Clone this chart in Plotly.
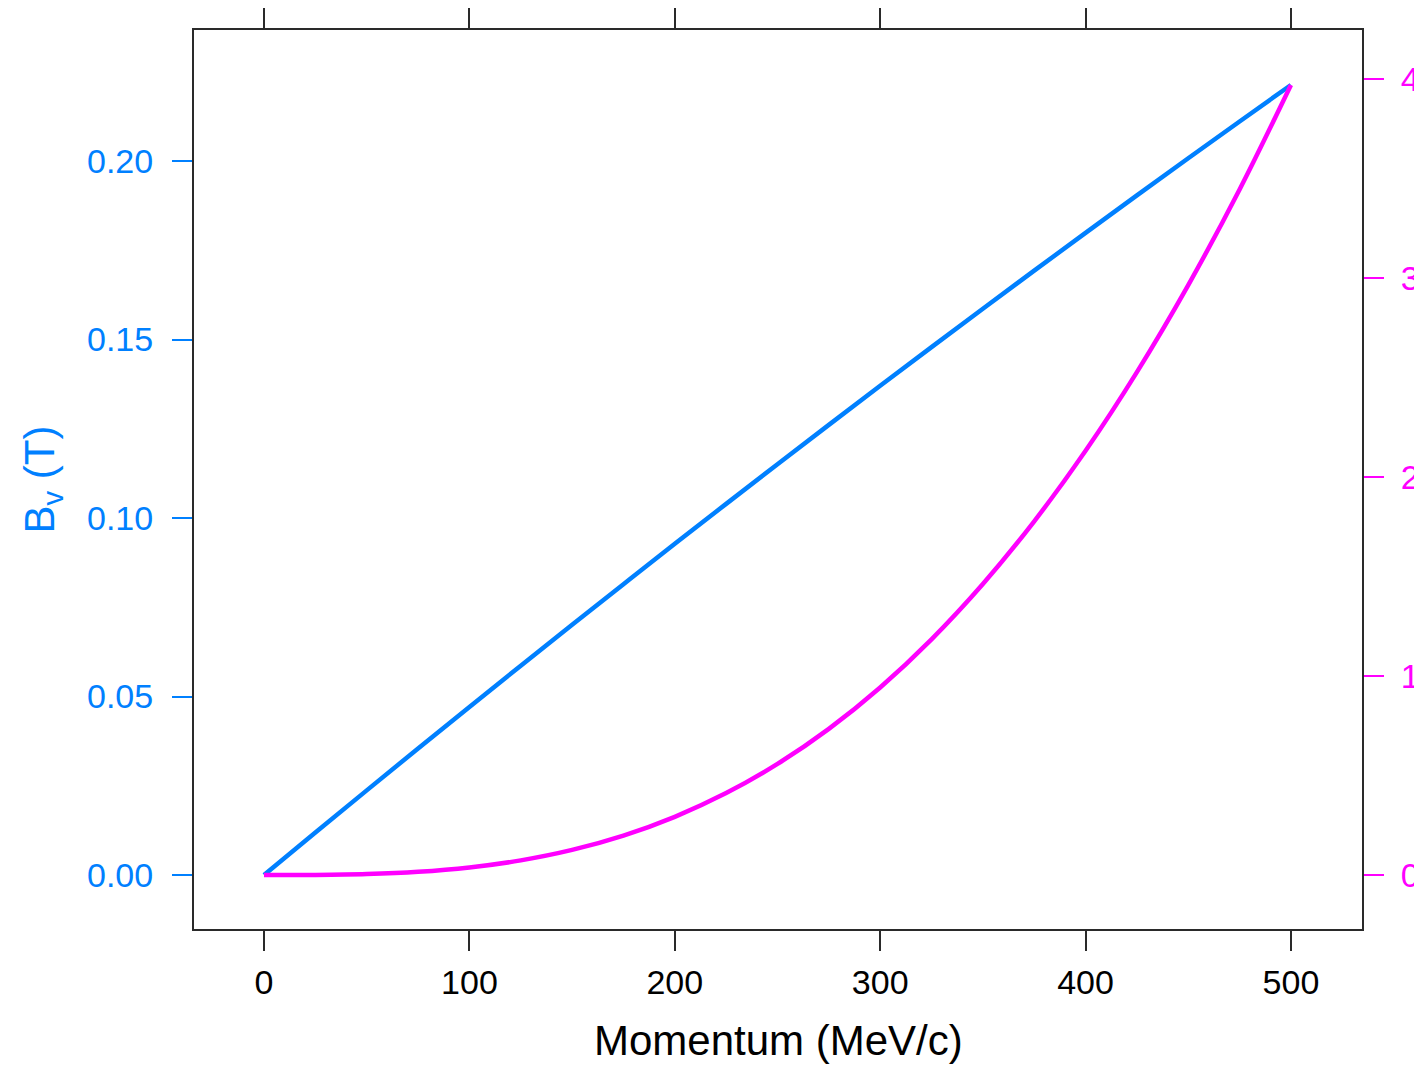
import plotly.graph_objects as go

# Data
momentum = [0, 25, 50, 75, 100, 125, 150, 175, 200, 225, 250, 275, 300,
            325, 350, 375, 400, 425, 450, 475, 500]
b_field = [0.0, 0.01191, 0.02373, 0.03546, 0.04710, 0.05865, 0.07012, 0.08149,
           0.09278, 0.10398, 0.11509, 0.12611, 0.13704, 0.14788, 0.15864,
           0.16930, 0.17988, 0.19037, 0.20077, 0.21108, 0.22130]
right_series = [0.0, 0.0006, 0.0049, 0.0163, 0.0383, 0.0739, 0.1263, 0.1982,
                0.2926, 0.4118, 0.5584, 0.7347, 0.9427, 1.1846, 1.4625, 1.7776,
                2.1320, 2.5273, 2.9645, 3.4450, 3.97]

x_ticks = [0, 100, 200, 300, 400, 500]
left_ticks = [0.00, 0.05, 0.10, 0.15, 0.20]
left_tick_text = ["0.00", "0.05", "0.10", "0.15", "0.20"]
right_ticks = [0, 1, 2, 3, 4]
x_title = "Momentum (MeV/c)"

BLUE = "#0080ff"
MAGENTA = "#ff00ff"
FRAME = "#2a2a2a"
FONT = "Liberation Sans, Arial, sans-serif"

fig = go.Figure()
fig.add_trace(go.Scatter(x=momentum, y=b_field, mode="lines",
                         line=dict(color=BLUE, width=4.5, shape="spline"),
                         yaxis="y", showlegend=False, hoverinfo="skip"))
fig.add_trace(go.Scatter(x=momentum, y=right_series, mode="lines",
                         line=dict(color=MAGENTA, width=4.5, shape="spline"),
                         yaxis="y2", showlegend=False, hoverinfo="skip"))

fig.update_layout(
    width=1414, height=1058,
    margin=dict(l=186, r=60, t=22, b=137, autoexpand=False),
    plot_bgcolor="white", paper_bgcolor="white",
    font=dict(family=FONT, size=34, color="black"),
    xaxis=dict(
        range=[-34.1, 534.6], tickvals=x_ticks, ticktext=[str(v) for v in x_ticks],
        showline=True, linecolor=FRAME, linewidth=2, mirror="ticks",
        ticks="outside", ticklen=20, tickwidth=2, tickcolor=FRAME,
        showgrid=False, zeroline=False, ticklabelstandoff=2,
        tickfont=dict(size=34, color="black"),
        automargin=False,
    ),
    yaxis=dict(
        range=[-0.0151, 0.2367], tickvals=left_ticks, ticktext=left_tick_text,
        showline=True, linecolor=FRAME, linewidth=2, mirror=False,
        ticks="outside", ticklen=20, tickwidth=2, tickcolor=BLUE,
        showgrid=False, zeroline=False, ticklabelstandoff=12,
        tickfont=dict(size=34, color=BLUE),
        title=dict(text="B<sub>v</sub> (T)", font=dict(size=42, color=BLUE),
                   standoff=19),
        automargin=False,
    ),
    yaxis2=dict(
        range=[-0.271, 4.246], tickvals=right_ticks,
        ticktext=[str(v) for v in right_ticks],
        overlaying="y", side="right",
        showline=True, linecolor=FRAME, linewidth=2,
        ticks="outside", ticklen=20, tickwidth=2, tickcolor=MAGENTA,
        showgrid=False, zeroline=False, ticklabelstandoff=10,
        tickfont=dict(size=34, color=MAGENTA),
        automargin=False,
    ),
    annotations=[dict(
        text=x_title, xref="paper", yref="paper", x=0.5, y=-0.1235,
        xanchor="center", yanchor="middle", showarrow=False,
        font=dict(size=42, color="black", family=FONT),
    )],
)

fig.write_html("out.html")
